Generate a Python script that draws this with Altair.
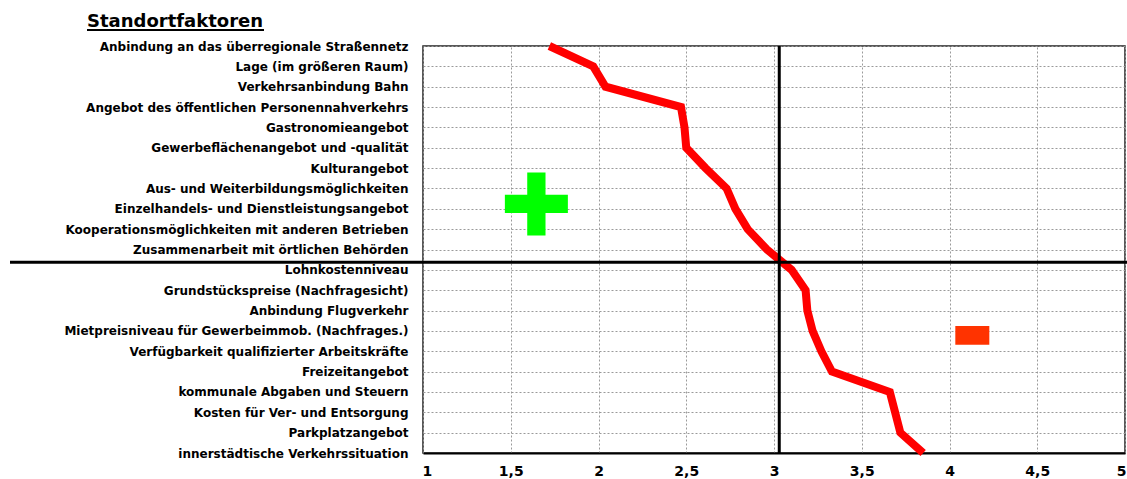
import json

import altair as alt
import pandas as pd

# Location factors, top to bottom, with their mean rating (1 = very good ... 5 = poor)
factors = [
    "Anbindung an das überregionale Straßennetz",
    "Lage (im größeren Raum)",
    "Verkehrsanbindung Bahn",
    "Angebot des öffentlichen Personennahverkehrs",
    "Gastronomieangebot",
    "Gewerbeflächenangebot und -qualität",
    "Kulturangebot",
    "Aus- und Weiterbildungsmöglichkeiten",
    "Einzelhandels- und Dienstleistungsangebot",
    "Kooperationsmöglichkeiten mit anderen Betrieben",
    "Zusammenarbeit mit örtlichen Behörden",
    "Lohnkostenniveau",
    "Grundstückspreise (Nachfragesicht)",
    "Anbindung Flugverkehr",
    "Mietpreisniveau für Gewerbeimmob. (Nachfrages.)",
    "Verfügbarkeit qualifizierter Arbeitskräfte",
    "Freizeitangebot",
    "kommunale Abgaben und Steuern",
    "Kosten für Ver- und Entsorgung",
    "Parkplatzangebot",
    "innerstädtische Verkehrssituation",
]
scores = [1.72, 1.97, 2.04, 2.47, 2.49, 2.50, 2.61, 2.73, 2.78, 2.85, 2.96,
          3.10, 3.18, 3.19, 3.22, 3.27, 3.33, 3.66, 3.69, 3.72, 3.85]

x_ticks = [1, 1.5, 2, 2.5, 3, 3.5, 4, 4.5, 5]
mean_score = 3.03          # overall mean (vertical reference line)
split_rank = 10.63         # boundary between strengths and weaknesses

# "+" and "-" markers: score, rank position
plus_marker = {"score": [1.646], "rank": [7.76]}
minus_marker = {"score": [4.13], "rank": [14.22]}

title_text = "Standortfaktoren"

# plot area geometry
W, H = 702, 407
LEFT, TOP = 423, 46

profile = pd.DataFrame({"rank": list(range(len(factors))), "factor": factors, "score": scores})

x_scale = alt.Scale(domain=[1, 5], nice=False, zero=False)
y_scale = alt.Scale(domain=[0, len(factors) - 1], reverse=True, nice=False, zero=False)

grid_style = dict(grid=True, gridColor="#9a9a9a", gridDash=[2, 2], gridWidth=1)

x_axis = alt.Axis(
    values=x_ticks,
    labelExpr="replace(toString(datum.value), '.', ',')",
    title=None,
    ticks=False,
    domainColor="black",
    domainWidth=2,
    labelFont="DejaVu Sans",
    labelFontSize=14,
    labelFontWeight="bold",
    labelColor="black",
    labelPadding=11,
    labelFlush=True,
    labelFlushOffset=1,
    **grid_style,
)

y_axis = alt.Axis(
    values=list(range(len(factors))),
    labelExpr=json.dumps(factors, ensure_ascii=False) + "[datum.value]",
    title=None,
    ticks=False,
    domain=False,
    labelFont="DejaVu Sans",
    labelFontSize=12,
    labelFontWeight="bold",
    labelColor="black",
    labelPadding=15,
    labelLimit=0,
    labelOverlap=False,
    **grid_style,
)


def xy(x_field, y_field):
    """Shared position channels so every layer carries the same scales and axes."""
    return dict(
        x=alt.X(x_field, scale=x_scale, axis=x_axis),
        y=alt.Y(y_field, scale=y_scale, axis=y_axis),
    )


profile_line = alt.Chart(profile).mark_line(
    color="#ff0000", strokeWidth=8, strokeJoin="miter"
).encode(order="rank:Q", **xy("score:Q", "rank:Q"))

mean_rule = alt.Chart(pd.DataFrame({"score": [mean_score]})).mark_rule(
    color="black", strokeWidth=3
).encode(x=alt.X("score:Q", scale=x_scale, axis=x_axis))

split_rule = alt.Chart(pd.DataFrame({"rank": [split_rank]})).mark_rule(
    color="black", strokeWidth=3
).encode(
    y=alt.Y("rank:Q", scale=y_scale, axis=y_axis),
    x=alt.value(10 - LEFT),
    x2=alt.value(1127 - LEFT),
)

plus_path = "M-0.29,-1H0.29V-0.29H1V0.29H0.29V1H-0.29V0.29H-1V-0.29H-0.29Z"
minus_path = "M-1,-0.55H1V0.55H-1Z"

plus_layer = alt.Chart(pd.DataFrame(plus_marker)).mark_point(
    shape=plus_path, filled=True, color="#00ff00", opacity=1, size=3969, strokeWidth=0
).encode(**xy("score:Q", "rank:Q"))

minus_layer = alt.Chart(pd.DataFrame(minus_marker)).mark_point(
    shape=minus_path, filled=True, color="#ff3300", opacity=1, size=1156, strokeWidth=0
).encode(**xy("score:Q", "rank:Q"))

heading = alt.Chart(pd.DataFrame({"t": [title_text]})).mark_text(
    align="left", baseline="alphabetic", font="DejaVu Sans",
    fontSize=18, fontWeight="bold", color="black",
).encode(text="t:N", x=alt.value(87 - LEFT), y=alt.value(27 - TOP))

heading_underline = alt.Chart(pd.DataFrame({"t": [title_text]})).mark_rule(
    color="black", strokeWidth=2
).encode(
    x=alt.value(87 - LEFT),
    x2=alt.value(87 - LEFT + 177),
    y=alt.value(30 - TOP),
)

chart = alt.layer(
    profile_line, mean_rule, split_rule, plus_layer, minus_layer, heading, heading_underline
).properties(
    width=W,
    height=H,
    autosize=alt.AutoSizeParams(type="none"),
    padding={"left": LEFT, "top": TOP, "right": 1127 - LEFT - W, "bottom": 479 - TOP - H},
    background="white",
).configure_view(stroke="#222222", strokeWidth=1.5)

chart.save("out.html", embed_options={"renderer": "svg", "actions": False})
